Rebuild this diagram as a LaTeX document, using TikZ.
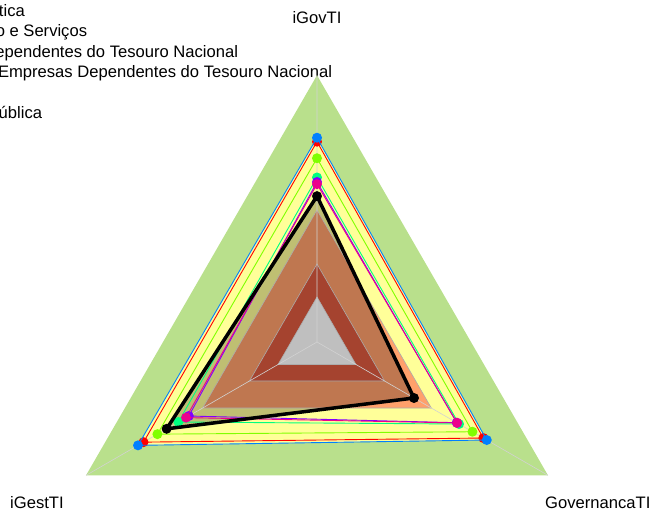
\documentclass[tikz,border=0pt]{standalone}
\usepackage{fontspec}
\setmainfont{Liberation Sans}
\definecolor{verde}{HTML}{B9E08C}
\definecolor{laranja}{HTML}{FFA06B}
\definecolor{tijolo}{HTML}{DD5A40}
\definecolor{amarelo}{HTML}{FFFF99}
\definecolor{azul}{HTML}{0080FF}
\definecolor{lima}{HTML}{80FF00}
\definecolor{prima}{HTML}{00FF80}
\definecolor{viol}{HTML}{8000FF}
\tikzset{every node/.style={font=\fontsize{16.6}{20}\selectfont, inner sep=0pt}, grade/.style={draw=gray!65, line width=0.6pt}, raio/.style={draw=gray!35, line width=0.6pt}, serie/.style={line width=0.9pt, line join=round}, ponto/.style={circle, minimum size=10pt, inner sep=0pt}}

\begin{document}
\begin{tikzpicture}[x=1pt,y=1pt]
   \useasboundingbox (0,0) rectangle (650,-513);
   \node[anchor=base east] (leg1) at ( 25.0, -16.7) {tica};
   \node[anchor=base east] (leg2) at ( 87.3, -36.7) {o e Serviços};
   \node[anchor=base east] (leg3) at (238.3, -57.3) {ependentes do Tesouro Nacional};
   \node[anchor=base east] (leg4) at (332.3, -77.7) {Empresas Dependentes do Tesouro Nacional};
   \node[anchor=base east] (leg6) at ( 42.3,-118.3) {ública};
   \node[anchor=base]      (gov)  at (317, -24) {iGovTI};
   \node[anchor=base west] (gest) at ( 10,-508) {iGestTI};
   \node[anchor=base west] (gcn)  at (545,-508) {GovernancaTI};
  \begin{scope}[shift={(317,-342)}]
   \coordinate (c) at (0,0);
   \foreach \a [count=\i] in {90,210,330} {
     \coordinate (v\i) at (\a:266.7);
     \coordinate (o\i) at (\a:132);
     \coordinate (t\i) at (\a:78);
     \coordinate (b\i) at (\a:45);
   }
   \foreach \s/\p/\q/\r in {red/.751/.751/.72, azul/.766/.775/.735, lima/.689/.691/.673, prima/.617/.60/.615, viol/.60/.555/.605, magenta/.592/.567/.607, black/.547/.651/.42} {
     \coordinate (\s1) at (90:{\p*266.7});
     \coordinate (\s2) at (210:{\q*266.7});
     \coordinate (\s3) at (330:{\r*266.7});
   }
   \fill[verde] (v1) -- (v2) -- (v3) -- cycle;
   \foreach \s in {red,azul,lima,prima,viol,magenta}
     \fill[amarelo] (\s1) -- (\s2) -- (\s3) -- cycle;
   \fill[laranja] (o1) -- (o2) -- (o3) -- cycle;
   \fill[tijolo]  (t1) -- (t2) -- (t3) -- cycle;
   \fill[white]   (b1) -- (b2) -- (b3) -- cycle;
   \fill[black, opacity=.25] (black1) -- (black2) -- (black3) -- cycle;
   \draw[grade] (o1) -- (o2) -- (o3) -- cycle;
   \draw[grade] (t1) -- (t2) -- (t3) -- cycle;
   \draw[grade] (b1) -- (b2) -- (b3) -- cycle;
   \draw[raio] (c) -- (v1) (c) -- (v2) (c) -- (v3);
   \foreach \s in {red,azul,lima,prima,viol,magenta} {
     \draw[serie, \s] (\s1) -- (\s2) -- (\s3) -- cycle;
     \foreach \i in {1,2,3}
       \node[ponto, fill=\s] (d\s\i) at (\s\i) {};
   }
   \draw[serie, line width=3.5pt] (black1) -- (black2) -- (black3) -- cycle;
   \foreach \i in {1,2,3}
     \node[ponto, fill=black] (dblack\i) at (black\i) {};
  \end{scope}
\end{tikzpicture}
\end{document}
